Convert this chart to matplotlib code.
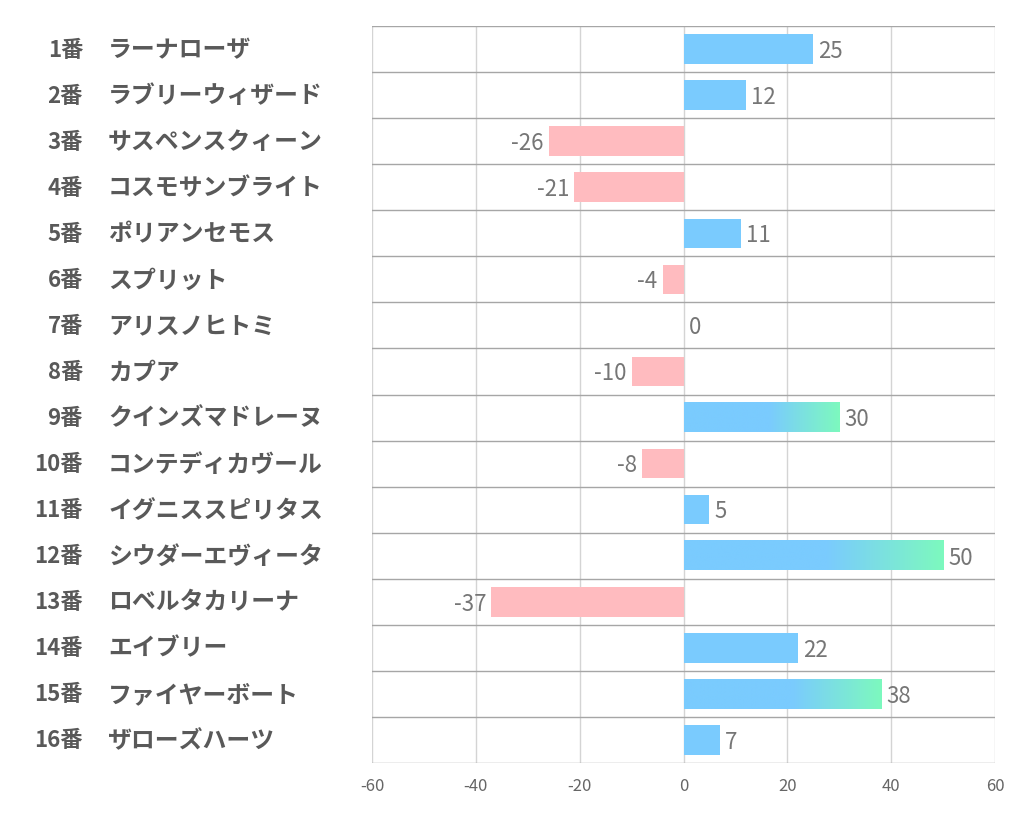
import matplotlib
matplotlib.use('Agg')
import matplotlib.pyplot as plt
import numpy as np
from matplotlib.colors import LinearSegmentedColormap

plt.rcParams['font.family'] = ['Noto Sans CJK JP', 'DejaVu Sans']

numeros = ['1番', '2番', '3番', '4番', '5番', '6番', '7番', '8番',
           '9番', '10番', '11番', '12番', '13番', '14番', '15番', '16番']
nomes = ['ラーナローザ', 'ラブリーウィザード', 'サスペンスクィーン', 'コスモサンブライト',
         'ポリアンセモス', 'スプリット', 'アリスノヒトミ', 'カプア',
         'クインズマドレーヌ', 'コンテディカヴール', 'イグニススピリタス', 'シウダーエヴィータ',
         'ロベルタカリーナ', 'エイブリー', 'ファイヤーボート', 'ザローズハーツ']
valores = [25, 12, -26, -21, 11, -4, 0, -10, 30, -8, 5, 50, -37, 22, 38, 7]
ticks_x = [-60, -40, -20, 0, 20, 40, 60]

azul = '#7ACBFE'
verde = '#7DF9BE'
rosa = '#FFBBBF'
limite_grad = 30  # barras a partir disto recebem degrade

fig = plt.figure(figsize=(10.22, 8.34), dpi=100)
ax = fig.add_axes([372/1022, 1 - 763/834, 623/1022, 737/834])

n = len(valores)
altura = 0.64
cmap = LinearSegmentedColormap.from_list('grad', [(0, azul), (0.55, azul), (1, verde)], N=256)

for i, v in enumerate(valores):
    if v >= limite_grad:
        grad = np.linspace(0, 1, 256).reshape(1, -1)
        ax.imshow(grad, cmap=cmap, aspect='auto', zorder=2,
                  extent=[0, v, i + altura/2, i - altura/2], interpolation='bilinear')
    elif v > 0:
        ax.barh(i, v, height=altura, color=azul, zorder=2)
    elif v < 0:
        ax.barh(i, v, height=altura, color=rosa, zorder=2)
    # rotulo do valor
    if v >= 0:
        ax.text(v + 1, i + 0.05, str(v), ha='left', va='center', fontsize=16, color='#767676')
    else:
        ax.text(v - 1, i + 0.05, str(v), ha='right', va='center', fontsize=16, color='#767676')

ax.set_xlim(-60, 60)
ax.set_ylim(n - 0.5, -0.5)
ax.set_xticks(ticks_x)
ax.set_xticklabels([str(t) for t in ticks_x], fontsize=12, color='#666666')
ax.set_yticks([])
ax.tick_params(axis='x', length=0, pad=11)

for t in ticks_x:
    ax.axvline(t, color='#D4D4D4', lw=1, zorder=1)
for k in range(n + 1):
    ax.axhline(k - 0.5, color='#A6A6A6', lw=1, zorder=1)

for s in ax.spines.values():
    s.set_visible(False)

# rotulos da esquerda
for i in range(n):
    y = 1 - (27 + 46.06 * (i + 0.5)) / 834
    fig.text(83/1022, y, numeros[i], ha='right', va='center', fontsize=16,
             fontweight='bold', color='#595959')
    fig.text(108/1022, y, nomes[i], ha='left', va='center', fontsize=17.2,
             fontweight='bold', color='#595959')

fig.savefig('out.png', dpi=100)
